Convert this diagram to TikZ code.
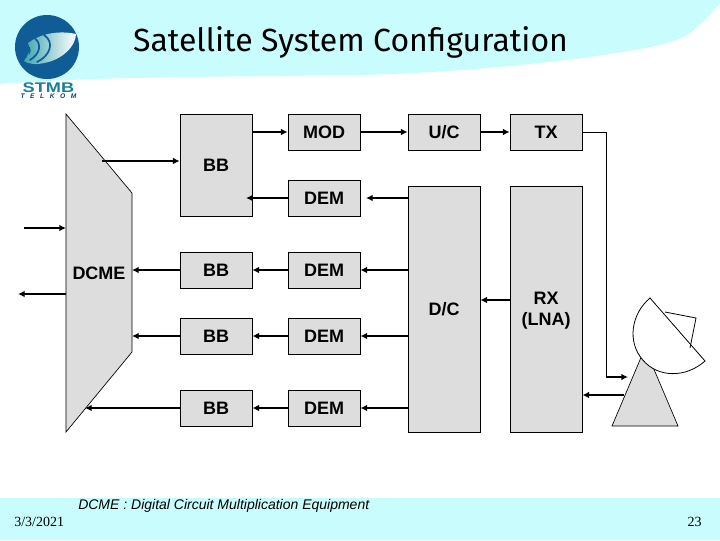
\documentclass[tikz,border=0pt]{standalone}
\usepackage{fontspec}
\setmainfont{Liberation Sans}
\newfontfamily\titlefont{Fira Sans}
\newfontfamily\serifface{Liberation Serif}
\definecolor{bandcyan}{HTML}{C9FCFD}
\definecolor{boxgray}{HTML}{DDDDDD}
\definecolor{logoblue}{HTML}{0F5C96}
\definecolor{logotext}{HTML}{1A7F96}
\definecolor{logoteal}{HTML}{3FA6AE}
\usetikzlibrary{arrows.meta}
\tikzset{
  block/.style={draw=black,line width=0.6pt,fill=boxgray,minimum width=54pt,inner sep=0pt,font=\bfseries\fontsize{13.5}{16}\selectfont,align=center},
  blocklabel/.style={inner sep=0pt,font=\bfseries\fontsize{13.5}{16}\selectfont,align=center},
  conn/.style={line width=1.6pt,-{Latex[length=5pt,width=5pt]}},
  thinline/.style={line width=0.6pt},
  shapeline/.style={draw=black,line width=0.5pt},
  gap/.style={draw=logoblue,line width=1.3pt,line cap=round}
}
\begin{document}
\begin{tikzpicture}[x=0.75pt,y=-0.75pt]
\useasboundingbox (0,0) rectangle (720,540);
% backgrounds
\fill[bandcyan] (0,0) -- (720,0) -- (720,3) .. controls (700,26) and (690,38) .. (660,45) .. controls (600,58) and (480,72) .. (360,75) .. controls (240,77) and (100,76) .. (0,84) -- cycle;
\fill[bandcyan] (0,498) rectangle (720,540);
% logo
\fill[logoblue] (47,47) circle (32);
\shade[left color=logoteal,right color=white] (28,43) .. controls (40,34) and (58,30) .. (76,34) .. controls (76,46) and (62,60) .. (44,63) .. controls (36,65) and (28,64) .. (24,61) .. controls (28,56) and (31,50) .. (28,43) -- cycle;
\draw[gap] (35,38.5) .. controls (42,44) and (40,54) .. (30,60);
\draw[gap] (44,35) .. controls (55,42) and (50,56) .. (37,62);
\fill[logoblue] (24,46) .. controls (29,44) and (33,48) .. (29,55) .. controls (29,52) and (28,48) .. (24,46) -- cycle;
\node[inner sep=0pt,text=logotext,font=\bfseries\fontsize{10.5}{11}\selectfont] (logoname) at (48.5,87.5) {\scalebox{1.3}[1]{STMB}};
\node[inner sep=0pt,font=\bfseries\itshape\fontsize{5}{5}\selectfont,text=logoblue!70!black] (logosub) at (48.5,96.5) {\makebox[42pt][s]{T\hfill E\hfill L\hfill K\hfill O\hfill M}};
% title
\node[inner sep=0pt,font=\titlefont\fontsize{24}{28}\selectfont] (title) at (350.5,42) {Satellite System Configuration};
% DCME
\draw[shapeline,fill=boxgray] (66,114) -- (132,193) -- (132,352) -- (66,432) -- cycle;
\coordinate (dcmeE1) at (132,270);
\coordinate (dcmeE2) at (132,336);
\coordinate (dcmeE3) at (85,408);
\coordinate (dcmeOut) at (102,161);
\coordinate (dcmeIn) at (66,228);
\coordinate (dcmeLeft) at (66,294);
\coordinate (extIn) at (24,228);
\coordinate (extOut) at (18,294);
\node[blocklabel] (dcme) at (99,273) {DCME};
% blocks
\node[block,minimum height=76.5pt] (bb1) at (216,165) {BB};
\node[block,minimum height=27pt] (mod) at (324,132) {MOD};
\node[block,minimum height=27pt] (dem1) at (324,198) {DEM};
\node[block,minimum height=27pt] (uc) at (444,132) {U/C};
\node[block,minimum height=27pt] (tx) at (546,132) {TX};
\node[block,minimum height=184.5pt] (dc) at (444,309) {D/C};
\node[block,minimum height=184.5pt] (rx) at (546,309) {};
\node[blocklabel] (rxlabel) at (546,310.5) {RX\\(LNA)};
\node[block,minimum height=27pt] (bb2) at (216,270) {BB};
\node[block,minimum height=27pt] (dem2) at (324,270) {DEM};
\node[block,minimum height=27pt] (bb3) at (216,336) {BB};
\node[block,minimum height=27pt] (dem3) at (324,336) {DEM};
\node[block,minimum height=27pt] (bb4) at (216,408) {BB};
\node[block,minimum height=27pt] (dem4) at (324,408) {DEM};
% antenna
\draw[shapeline,fill=boxgray] (645,348) -- (612,426) -- (678,426) -- (650,360) -- cycle;
\draw[thinline,fill=white] (650,298) .. controls (631,314) and (627,342) .. (642.8,360) .. controls (658,378) and (686,378) .. (705,361) -- cycle;
\draw[thinline] (665,312) -- (696,318) -- (690,348);
\coordinate (antTop) at (628,377);
\coordinate (antBot) at (624,395);
\coordinate (txCorner) at (606,132);
\coordinate (txDown) at (606,377);
% connectors
\draw[conn] (bb1.east |- mod) -- (mod);
\draw[conn] (mod) -- (uc);
\draw[conn] (uc) -- (tx);
\draw[thinline] (tx.east) -- (txCorner) -- (txDown);
\draw[conn] (txDown) -- (antTop);
\draw[conn] (antBot) -- (rx.east |- antBot);
\draw[conn] (rx.west |- 0,300) -- (dc.east |- 0,300);
\draw[conn] (dcmeOut) -- (bb1.west |- dcmeOut);
\draw[conn] (dem1.west) -- (246,198);
\draw[conn] (dc.west |- dem1) -- (366,198);
\draw[conn] (dc.west |- dem2) -- (dem2.east);
\draw[conn] (dem2) -- (bb2);
\draw[conn] (bb2) -- (dcmeE1);
\draw[conn] (dc.west |- dem3) -- (dem3.east);
\draw[conn] (dem3) -- (bb3);
\draw[conn] (bb3) -- (dcmeE2);
\draw[conn] (dc.west |- dem4) -- (dem4.east);
\draw[conn] (dem4) -- (bb4);
\draw[conn] (bb4) -- (dcmeE3);
\draw[conn] (extIn) -- (dcmeIn);
\draw[conn] (dcmeLeft) -- (extOut);
% footer
\node[inner sep=0pt,font=\itshape\fontsize{10.5}{12}\selectfont,anchor=west] (note) at (78,505.5) {DCME : Digital Circuit Multiplication Equipment};
\node[inner sep=0pt,font=\serifface\fontsize{10.5}{12}\selectfont,anchor=west] (date) at (14,522) {3/3/2021};
\node[inner sep=0pt,font=\serifface\fontsize{10.5}{12}\selectfont,anchor=east] (page) at (702,522) {23};
\end{tikzpicture}
\end{document}
